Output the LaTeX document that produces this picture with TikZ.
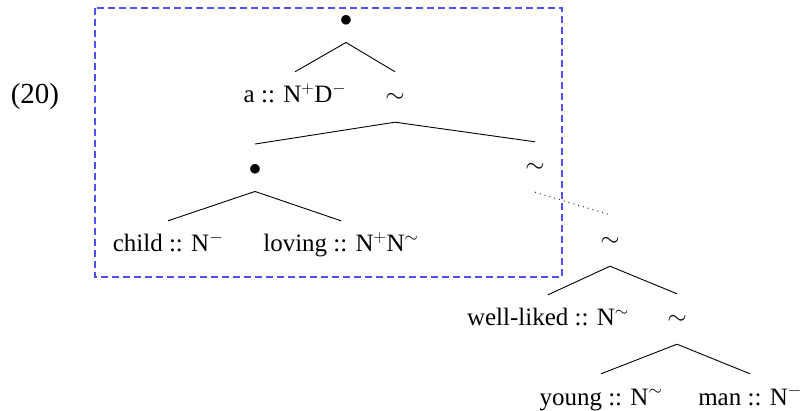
\documentclass[tikz,border=0pt]{standalone}
\usepackage{fontspec}
\setmainfont{Liberation Serif}
\begin{document}
\begin{tikzpicture}[x=1pt,y=-1pt,
  lab/.style={anchor=base,inner sep=0pt,text height=16pt,text depth=5pt,font=\fontsize{25}{30}\selectfont},
  bul/.style={lab,text depth=2pt,font=\fontsize{33}{38}\selectfont},
  edge/.style={line width=0.9pt},
  box/.style={draw={rgb,255:red,80;green,80;blue,250},dash pattern=on 7pt off 4pt,line width=1.1pt}]
\useasboundingbox (0,0) rectangle (803,411);
\node[lab,font=\fontsize{29}{34}\selectfont] (ex) at (35,104) {(20)};
\node[bul] (r) at (346,26.25) {$\bullet$};
\node[lab] (a) at (295,103) {a :: N$^{+}$D$^{-}$};
\node[lab] (t1) at (395,103) {$\sim$};
\node[bul] (b2) at (255,175.25) {$\bullet$};
\node[lab] (t2) at (535,173) {$\sim$};
\node[lab] (child) at (168,252) {child :: N$^{-}$};
\node[lab] (loving) at (341,252) {loving :: N$^{+}$N$^{\sim}$};
\node[lab] (t3) at (610,247) {$\sim$};
\node[lab] (wl) at (548,326) {well-liked :: N$^{\sim}$};
\node[lab] (t4) at (677,325) {$\sim$};
\node[lab] (young) at (601,405) {young :: N$^{\sim}$};
\node[lab] (man) at (750,405) {man :: N$^{-}$};
\foreach \p/\c in {r/a,r/t1,t1/b2,t1/t2,b2/child,b2/loving,t3/wl,t3/t4,t4/young,t4/man}
  \draw[edge] ([yshift=-14pt]\p.south) -- ([yshift=15pt]\c.north);
\draw[black!80,line width=1pt,dash pattern=on 1pt off 4pt] ([yshift=-14pt]t2.south) -- ([yshift=16pt]t3.north);
\draw[box] (95,8) rectangle (562,277);
\end{tikzpicture}
\end{document}
